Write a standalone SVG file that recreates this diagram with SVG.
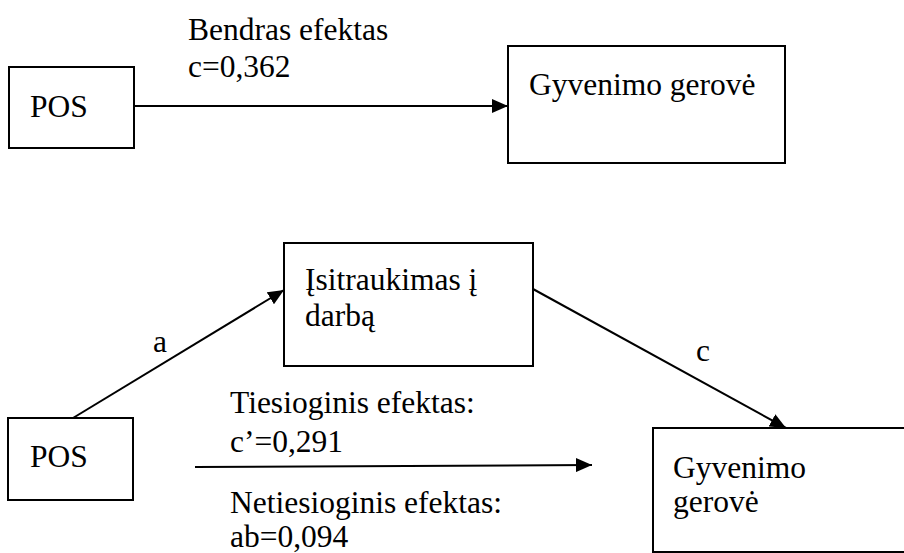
<svg xmlns="http://www.w3.org/2000/svg" width="904" height="553" viewBox="0 0 904 553">
<style>
.box{fill:#fff;stroke:#000;stroke-width:2}
text{font-family:'Liberation Serif','Times New Roman','DejaVu Serif',serif;font-size:31.5px;fill:#000}
.ln{stroke:#000;stroke-width:2;fill:none}
</style>
<defs>
<marker id="ah" markerUnits="userSpaceOnUse" markerWidth="17" markerHeight="14" refX="16" refY="7" orient="auto">
<path d="M0,0 L16,7 L0,14 z" fill="#000"/>
</marker>
</defs>
<rect width="904" height="553" fill="#fff"/>
<g id="connectors">
<line class="ln" x1="134" y1="106" x2="508" y2="106" marker-end="url(#ah)"/>
<line class="ln" x1="73" y1="418" x2="284" y2="290" marker-end="url(#ah)"/>
<line class="ln" x1="533" y1="289" x2="786" y2="428" marker-end="url(#ah)"/>
<line class="ln" x1="195" y1="467" x2="592" y2="465" marker-end="url(#ah)"/>
</g>
<g id="pos-top">
<rect class="box" x="9" y="67" width="125" height="81"/>
<text x="30" y="117">POS</text>
</g>
<g id="gerove-top">
<rect class="box" x="508" y="46" width="277" height="117"/>
<text x="529" y="95">Gyvenimo gerovė</text>
</g>
<g id="label-total">
<text x="188" y="40">Bendras efektas</text>
<text x="188" y="77">c=0,362</text>
</g>
<g id="isitraukimas">
<rect class="box" x="284" y="243" width="249" height="123"/>
<text x="305" y="290">Įsitraukimas į</text>
<text x="305" y="326">darbą</text>
</g>
<g id="pos-bottom">
<rect class="box" x="8" y="418" width="125" height="82"/>
<text x="30" y="467">POS</text>
</g>
<g id="gerove-bottom">
<rect class="box" x="653" y="428" width="260" height="124"/>
<text x="673" y="478">Gyvenimo</text>
<text x="673" y="512">gerovė</text>
</g>
<g id="labels-bottom">
<text x="153" y="352">a</text>
<text x="696" y="361">c</text>
<text x="230" y="413">Tiesioginis efektas:</text>
<text x="230" y="452">c’=0,291</text>
<text x="230" y="513">Netiesioginis efektas:</text>
<text x="230" y="547">ab=0,094</text>
</g>
</svg>
